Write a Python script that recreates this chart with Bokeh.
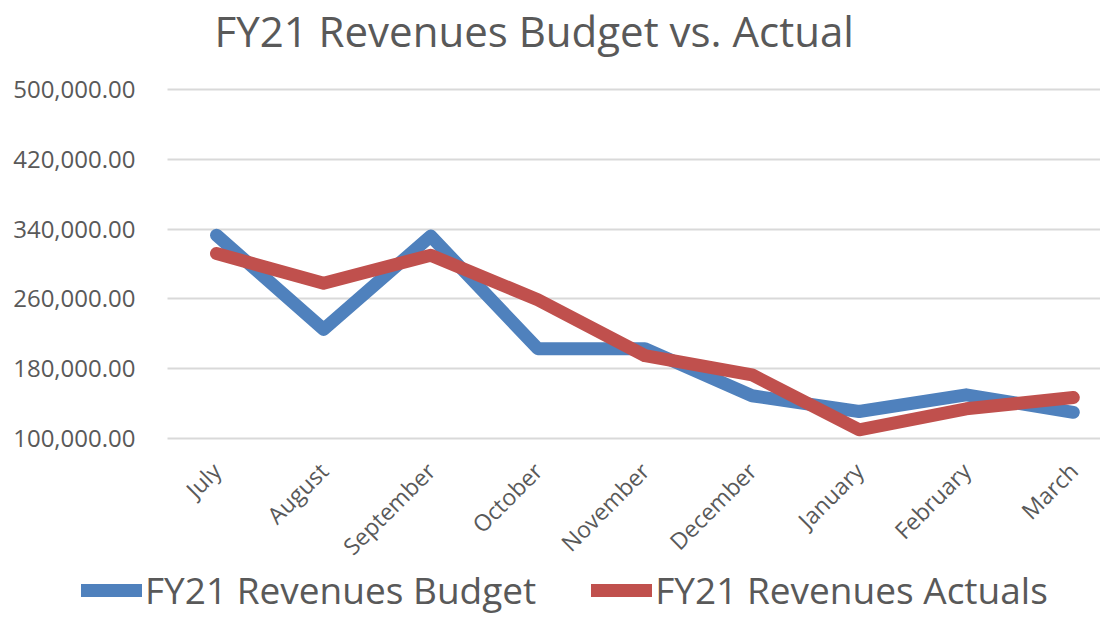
from math import pi
from bokeh.plotting import figure
from bokeh.models import (Range1d, FixedTicker, NumeralTickFormatter, Legend, LegendItem,
                          ColumnDataSource, Label)
from bokeh.embed import file_html
from bokeh.resources import INLINE

months = ["July", "August", "September", "October", "November", "December",
          "January", "February", "March"]
budget = [333000, 225000, 332000, 203000, 203000, 149000, 131000, 150000, 130000]
actuals = [312000, 278000, 310000, 259000, 195000, 173000, 110000, 134000, 147000]
y_ticks = [100000, 180000, 260000, 340000, 420000, 500000]

title_text = "FY21 Revenues Budget vs. Actual"
series_names = ["FY21 Revenues Budget", "FY21 Revenues Actuals"]

FONT = "Open Sans"
GREY = "#595959"
BLUE = "#4F81BD"
RED = "#C0504D"
W, H = 1100, 616

# plotting area in canvas pixels (axes are pinned inside a full-canvas frame)
AX_LEFT, AX_TOP, AX_BOTTOM = 167, 89, 438
X0_PX, STEP_PX = 216, 107.1
y_min, y_max = y_ticks[0], y_ticks[-1]
per_px = (y_max - y_min) / (AX_BOTTOM - AX_TOP)
y_start = y_min - (H - AX_BOTTOM) * per_px
y_end = y_max + AX_TOP * per_px
x_start = -X0_PX / STEP_PX
x_end = (W - X0_PX) / STEP_PX
x_axis_pos = (AX_LEFT - X0_PX) / STEP_PX

idx = list(range(len(months)))
src = ColumnDataSource(dict(x=idx, budget=budget, actuals=actuals))

p = figure(width=W, height=H, output_backend="svg", toolbar_location=None,
           x_range=Range1d(x_start, x_end), y_range=Range1d(y_start, y_end),
           min_border=0)
p.title.visible = False
p.outline_line_color = None
p.background_fill_color = "white"
p.border_fill_color = "white"

# grid
g = p.ygrid[0]
g.ticker = FixedTicker(ticks=y_ticks)
g.grid_line_color = "#D9D9D9"
g.grid_line_width = 2
if "cross_bounds" in g.properties():
    g.cross_bounds = (x_axis_pos, x_end)
else:
    g.visible = False
    p.segment(x0=[x_axis_pos] * len(y_ticks), x1=[x_end] * len(y_ticks),
              y0=y_ticks, y1=y_ticks, line_color="#D9D9D9", line_width=2)
p.xgrid.visible = False

r1 = p.line("x", "budget", source=src, line_color=BLUE, line_width=13,
            line_join="round", line_cap="round")
r2 = p.line("x", "actuals", source=src, line_color=RED, line_width=13,
            line_join="round", line_cap="round")

# axes pinned to the data location of the plot area's edges
xa = p.xaxis[0]
xa.fixed_location = y_min
xa.ticker = FixedTicker(ticks=idx)
xa.major_label_overrides = {i: m for i, m in enumerate(months)}
xa.major_label_orientation = pi / 4
xa.major_label_text_font = FONT
xa.major_label_text_font_size = "23px"
xa.major_label_text_color = GREY
xa.major_label_standoff = 28
xa.axis_line_color = None
xa.major_tick_line_color = None
xa.minor_tick_line_color = None
xa.major_tick_out = 0

ya = p.yaxis[0]
ya.fixed_location = x_axis_pos
ya.ticker = FixedTicker(ticks=y_ticks)
ya.formatter = NumeralTickFormatter(format="0,0.00")
ya.major_label_text_font = FONT
ya.major_label_text_font_size = "24px"
ya.major_label_text_color = GREY
ya.major_label_standoff = 32
ya.axis_line_color = None
ya.major_tick_line_color = None
ya.minor_tick_line_color = None
ya.major_tick_out = 0

# title
p.add_layout(Label(x=214, y=H - 30, x_units="screen", y_units="screen", text=title_text,
                   text_font=FONT, text_font_size="42px", text_color=GREY,
                   text_baseline="alphabetic", text_align="left"))

legend = Legend(items=[LegendItem(label=series_names[0], renderers=[r1]),
                       LegendItem(label=series_names[1], renderers=[r2])],
                orientation="horizontal", location=(81, 1),
                label_text_font=FONT, label_text_font_size="37px",
                label_text_color=GREY, glyph_width=61, glyph_height=40,
                label_standoff=3, spacing=55, padding=0, margin=0,
                border_line_color=None, background_fill_alpha=0)
p.add_layout(legend, "center")

open("out.html", "w").write(file_html(p, INLINE))
